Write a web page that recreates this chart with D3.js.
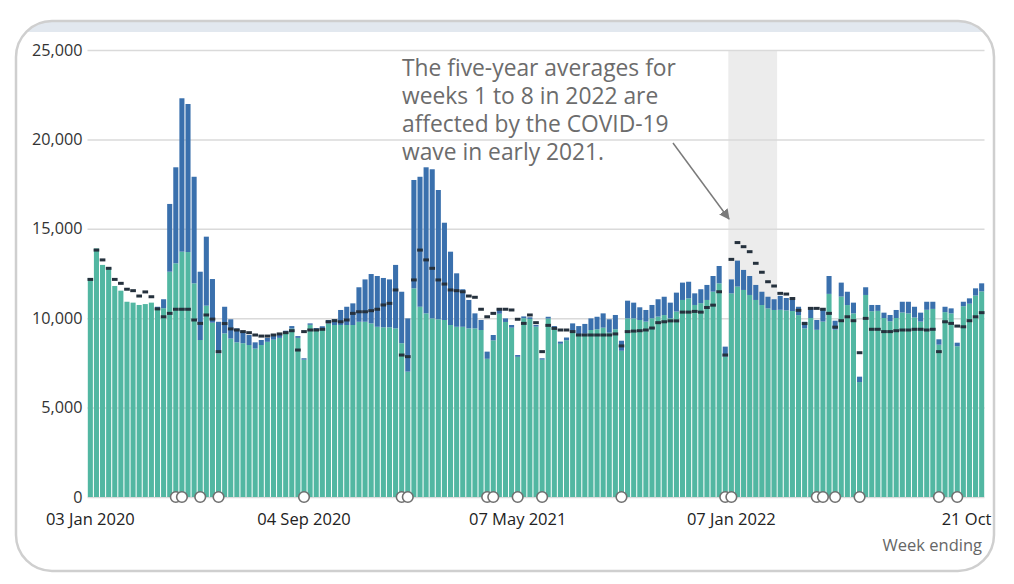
<!DOCTYPE html>
<html><head><meta charset="utf-8">
<script src="https://cdn.jsdelivr.net/npm/d3@7"></script>
<style>
html,body{margin:0;padding:0;background:#fff;}
svg{display:block;font-family:"Open Sans",sans-serif;}
</style></head>
<body><svg id="c" width="1014" height="584"></svg>
<script>
// ---- data (England and Wales weekly deaths) ----
const weekEnding = d3.utcFriday.range(new Date(Date.UTC(2020,0,3)), new Date(Date.UTC(2022,9,22)));
const tickLabels = ["03 Jan 2020","04 Sep 2020","07 May 2021","07 Jan 2022","21 Oct 2022"];
const yTicks = [0,5000,10000,15000,20000,25000];
const allDeaths = [
12250,13900,12980,12800,11800,11540,10920,10870,10740,10790,10870,10640,11060,16390,18440,22300,21980,17910,12600,14560,
12190,9800,10640,9940,9430,9250,9060,8650,8780,8900,9000,9060,9300,9560,9000,7760,9710,9450,9550,9900,
9940,10460,10640,10830,11730,12170,12470,12360,12250,12170,12980,11480,9990,17730,17910,18440,18330,17170,15340,13720,
12510,11620,11020,10270,9900,8130,9060,10500,9990,9620,7940,10100,10050,9620,7760,10080,9560,8690,8920,9710,
9560,9680,9990,10080,10270,9940,10180,8740,10980,10870,10610,10460,10740,11060,11200,10870,11430,11990,12040,11390,
11620,11860,12360,12920,8410,12170,13220,12700,12360,11860,11480,11200,11060,11250,11130,11050,10640,9800,10610,9900,
10460,12360,9860,11990,11480,10870,6730,11730,10740,10740,10310,10180,10460,10920,10920,10640,10310,10920,10920,8820,
10640,10550,8630,10920,11110,11670,11950];
const covidDeaths = [
0,0,0,0,0,0,0,0,0,0,0,100,500,3790,5370,8580,8280,5960,3820,3860,
2440,1770,1490,1080,780,650,560,350,280,220,200,160,150,140,100,80,80,100,150,200,
320,840,1020,1210,1930,2370,2760,2840,2760,2680,3550,2880,2980,6060,7270,8170,8340,7230,5440,4100,
2990,2100,1590,840,560,400,300,250,200,150,100,100,90,90,80,100,100,120,150,470,
500,550,650,700,800,750,800,560,990,880,710,650,745,970,1025,875,1060,970,930,650,
780,840,875,970,560,780,1450,1120,1060,840,745,650,600,780,690,650,470,370,600,550,
650,1000,500,780,745,600,300,430,350,330,300,350,450,600,650,600,500,450,400,300,
300,280,200,250,300,400,450];
const fiveYearAverage = [
12170,13810,13260,12790,12170,11950,11620,11540,11240,11470,11200,10520,10080,10270,10500,10500,10500,9900,9710,10180,
9950,8130,9700,9400,9340,9250,9190,9060,9000,9000,9060,9120,9190,9300,8220,9250,9340,9340,9380,9800,
9860,9800,9900,10270,10360,10360,10420,10500,10740,10830,11580,7940,7850,12140,13810,13260,12790,12140,11910,11580,
11540,11480,11240,11170,10500,10080,10270,10500,10500,10460,9940,9710,10180,9750,8130,9600,9430,9340,9340,9250,
9060,9060,9060,9060,9060,9060,9120,8450,9250,9280,9300,9340,9450,9750,9800,9850,9850,10340,10340,10380,
10340,10600,10730,11480,7940,13290,14230,14000,13720,13070,12570,12040,11800,11390,11350,11100,10440,9700,10550,10550,
10500,10270,9500,9860,10080,9860,8070,9990,9380,9380,9250,9250,9300,9340,9340,9380,9380,9340,9380,8130,
9800,9710,9560,9520,9860,10080,10310];
const bankHolidayWeeks = ["2020-04-10","2020-04-17","2020-05-08","2020-05-29","2020-09-04","2020-12-25","2021-01-01",
"2021-04-02","2021-04-09","2021-05-07","2021-06-04","2021-09-03","2021-12-31","2022-01-07",
"2022-04-15","2022-04-22","2022-05-06","2022-06-03","2022-09-02","2022-09-23"];
const shadedWeeks = ["2022-01-07","2022-02-25"];
const annotationLines = ["The five-year averages for","weeks 1 to 8 in 2022 are","affected by the COVID-19","wave in early 2021."];

// ---- drawing ----
const svg = d3.select("#c");
const fmtKey = d3.utcFormat("%Y-%m-%d");
const fmtLab = d3.utcFormat("%d %b %Y");
const keys = weekEnding.map(fmtKey);

const defs = svg.append("defs");
defs.append("clipPath").attr("id","frameClip").append("rect")
  .attr("x",16).attr("y",21).attr("width",978).attr("height",550).attr("rx",36).attr("ry",36);
defs.append("marker").attr("id","arrow").attr("viewBox","0 0 10 10").attr("refX",9).attr("refY",5)
  .attr("markerWidth",7).attr("markerHeight",7).attr("orient","auto")
  .append("path").attr("d","M0,0 L10,5 L0,10 z").attr("fill","#7a7a7a");

const g = svg.append("g").attr("clip-path","url(#frameClip)");
g.append("rect").attr("x",16).attr("y",21).attr("width",978).attr("height",550).attr("fill","#fff");
g.append("rect").attr("x",16).attr("y",21).attr("width",978).attr("height",11).attr("fill","#e2e8ef");

const x = d3.scaleBand().domain(keys).range([87.5,984.5]).paddingInner(0.17).paddingOuter(0.05);
const y = d3.scaleLinear().domain([0,25000]).range([497,50]);

// shaded band
g.append("rect")
  .attr("x", x(shadedWeeks[0]) - x.step()*x.paddingInner()/2)
  .attr("width", x(shadedWeeks[1]) - x(shadedWeeks[0]) + x.step())
  .attr("y", y(25000)).attr("height", y(0)-y(25000)).attr("fill","#ececec");

// y axis with gridlines
const yAxis = g.append("g").attr("transform","translate(87.5,0)")
  .call(d3.axisLeft(y).tickValues(yTicks).tickFormat(d3.format(",")).tickSize(-897).tickPadding(5));
yAxis.select(".domain").remove();
yAxis.selectAll(".tick line").attr("stroke","#dadada").attr("stroke-width",1.5);
yAxis.selectAll(".tick text").attr("fill","#333").style("font-size","16.2px").style("font-family","Open Sans");

// bars
const rows = keys.map((k,i)=>({k, all:allDeaths[i], covid:covidDeaths[i], avg:fiveYearAverage[i]}));
g.append("g").selectAll("rect").data(rows).join("rect")
  .attr("x",d=>x(d.k)).attr("width",x.bandwidth())
  .attr("y",d=>y(d.all-d.covid)).attr("height",d=>y(0)-y(d.all-d.covid)).attr("fill","#52b7a2");
g.append("g").selectAll("rect").data(rows.filter(d=>d.covid>0)).join("rect")
  .attr("x",d=>x(d.k)).attr("width",x.bandwidth())
  .attr("y",d=>y(d.all)).attr("height",d=>y(d.all-d.covid)-y(d.all)).attr("fill","#3a70ad");

// five-year average dashes
g.append("g").selectAll("rect").data(rows).join("rect")
  .attr("x",d=>x(d.k)-0.3).attr("width",x.bandwidth()+0.6)
  .attr("y",d=>y(d.avg)-1.5).attr("height",3).attr("fill","#25313d");

// bank holiday markers
g.append("g").selectAll("circle").data(bankHolidayWeeks).join("circle")
  .attr("cx",d=>x(d)+x.bandwidth()/2).attr("cy",y(0)).attr("r",5.3)
  .attr("fill","#fff").attr("stroke","#6f6f6f").attr("stroke-width",1.6);

// x axis
const tickKeys = keys.filter(k=>tickLabels.includes(fmtLab(new Date(k+"T00:00:00Z"))));
const xAxis = g.append("g").attr("transform",`translate(0,${y(0)})`)
  .call(d3.axisBottom(x).tickValues(tickKeys).tickFormat(k=>fmtLab(new Date(k+"T00:00:00Z"))).tickSize(0).tickPadding(16));
xAxis.select(".domain").remove();
xAxis.selectAll(".tick text").attr("fill","#222").style("font-size","16.5px").style("font-family","Open Sans");
// the last label runs into the right edge of the frame, as in the original
xAxis.selectAll(".tick").filter((d,i,n)=>i===n.length-1).select("text")
  .attr("text-anchor","start").attr("x",-40);

g.append("text").attr("x",982).attr("y",551).attr("text-anchor","end")
  .attr("fill","#666").style("font-size","16.5px").text("Week ending");

// annotation
const ann = g.append("text").attr("fill","#6c6c6c").style("font-size","22.8px");
annotationLines.forEach((t,i)=>ann.append("tspan").attr("x",402).attr("y",75.5+i*28.2).text(t));
g.append("line").attr("x1",673).attr("y1",143).attr("x2",729).attr("y2",219)
  .attr("stroke","#7a7a7a").attr("stroke-width",1.5).attr("marker-end","url(#arrow)");

// frame
svg.append("rect").attr("x",16).attr("y",21).attr("width",978).attr("height",550).attr("rx",36).attr("ry",36)
  .attr("fill","none").attr("stroke","#cfcfcf").attr("stroke-width",2.5);
</script></body></html>
